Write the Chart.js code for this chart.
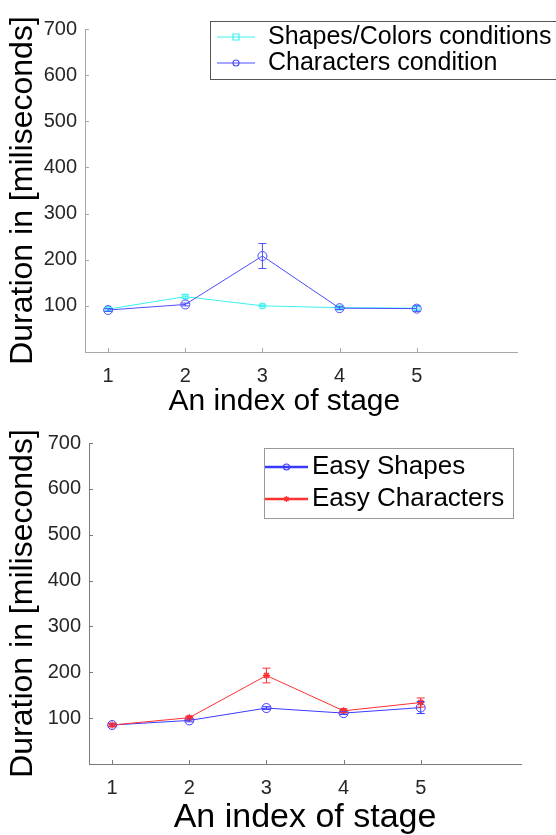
<!DOCTYPE html>
<html>
<head>
<meta charset="utf-8">
<script src="https://cdn.jsdelivr.net/npm/chart.js@4"></script>
<style>
  body { margin: 0; background: #fff; }
  canvas { display: block; }
</style>
</head>
<body>
<canvas id="top" width="556" height="417"></canvas>
<canvas id="bottom" width="556" height="418"></canvas>
<script>
// stage index on x, duration (ms) on y
const stages = [1, 2, 3, 4, 5];
const yTicks = [100, 200, 300, 400, 500, 600, 700];

// upper figure
const shapesColors = [93, 120, 100, 96, 95];
const shapesColorsErr = [3, 4, 2, 2, 4];
const characters = [91, 103, 208, 95, 94];
const charactersErr = [3, 3, 27, 3, 6];

// lower figure
const easyShapes = [85, 95, 122, 111, 123];
const easyShapesErr = [3, 3, 3, 3, 13];
const easyCharacters = [85, 101, 193, 116, 134];
const easyCharactersErr = [3, 3, 16, 4, 10];

const family = "'Liberation Sans', Arial, sans-serif";
const toPoints = arr => stages.map((s, i) => ({ x: s, y: arr[i] }));

function drawMarker(ctx, style, r, x, y) {
    ctx.beginPath();
    if (style === 'rect') {
        ctx.rect(x - r, y - r, 2 * r, 2 * r);
    } else if (style === 'star') {
        for (let k = 0; k < 4; k++) {
            const a = k * Math.PI / 4;
            ctx.moveTo(x - r * Math.cos(a), y - r * Math.sin(a));
            ctx.lineTo(x + r * Math.cos(a), y + r * Math.sin(a));
        }
    } else {
        ctx.arc(x, y, r, 0, Math.PI * 2);
    }
    ctx.stroke();
}

const errorBars = {
    id: 'errorBars',
    afterDatasetsDraw(chart) {
        const { ctx, scales: { x, y } } = chart;
        chart.data.datasets.forEach(ds => {
            if (!ds.err) return;
            ctx.save();
            ctx.strokeStyle = ds.borderColor;
            ctx.lineWidth = 1;
            ds.data.forEach((p, i) => {
                const px = x.getPixelForValue(p.x);
                const top = y.getPixelForValue(p.y + ds.err[i]);
                const bot = y.getPixelForValue(p.y - ds.err[i]);
                ctx.beginPath();
                ctx.moveTo(px, top); ctx.lineTo(px, bot);
                ctx.moveTo(px - 4, top); ctx.lineTo(px + 4, top);
                ctx.moveTo(px - 4, bot); ctx.lineTo(px + 4, bot);
                ctx.stroke();
            });
            ctx.restore();
        });
    }
};

// matlab style ticks pointing into the plot
const innerTicks = {
    id: 'innerTicks',
    afterDraw(chart, args, opts) {
        const { ctx, chartArea: a, scales: { x, y } } = chart;
        ctx.save();
        ctx.strokeStyle = opts.color;
        ctx.lineWidth = 1;
        ctx.beginPath();
        x.ticks.forEach(t => {
            const px = Math.round(x.getPixelForValue(t.value)) + 0.5;
            ctx.moveTo(px, a.bottom); ctx.lineTo(px, a.bottom - 4);
        });
        y.ticks.forEach(t => {
            const py = Math.round(y.getPixelForValue(t.value)) + 0.5;
            ctx.moveTo(a.left, py); ctx.lineTo(a.left + 4, py);
        });
        ctx.stroke();
        ctx.restore();
    }
};

const boxLegend = {
    id: 'boxLegend',
    afterDraw(chart, args, o) {
        const ctx = chart.ctx;
        ctx.save();
        ctx.fillStyle = '#fff';
        ctx.fillRect(o.left, o.top, o.width, o.height);
        ctx.strokeStyle = o.borderColor;
        ctx.lineWidth = 1;
        ctx.strokeRect(o.left + 0.5, o.top + 0.5, o.width, o.height);
        ctx.font = o.font;
        ctx.textBaseline = 'middle';
        ctx.fillStyle = '#000';
        chart.data.datasets.forEach((ds, i) => {
            const yy = o.rows[i];
            ctx.strokeStyle = ds.borderColor;
            ctx.lineWidth = o.lineWidth;
            ctx.beginPath();
            ctx.moveTo(o.lineFrom, yy); ctx.lineTo(o.lineTo, yy);
            ctx.stroke();
            ctx.lineWidth = 1.2;
            drawMarker(ctx, ds.pointStyle, o.markerSize, (o.lineFrom + o.lineTo) / 2, yy);
            ctx.fillText(ds.label, o.textX, yy);
        });
        ctx.restore();
    }
};

function makeChart(id, datasets, geo) {
    return new Chart(document.getElementById(id), {
        type: 'line',
        data: { datasets },
        plugins: [errorBars, innerTicks, boxLegend],
        options: {
            responsive: false,
            animation: false,
            events: [],
            layout: { padding: { left: 0, top: geo.top, right: geo.right, bottom: 0 } },
            plugins: {
                legend: { display: false },
                tooltip: { enabled: false },
                innerTicks: { color: geo.axisColor },
                boxLegend: geo.legend
            },
            scales: {
                x: {
                    type: 'linear',
                    min: 0.7,
                    max: 6.3,
                    afterBuildTicks: s => { s.ticks = stages.map(v => ({ value: v })); },
                    afterFit: s => { s.height = geo.xHeight; },
                    grid: { display: false, drawTicks: false },
                    border: { display: true, color: geo.axisColor, width: 1 },
                    ticks: { font: { size: 20, family }, color: '#262626', padding: 12, maxRotation: 0 },
                    title: {
                        display: true,
                        text: geo.xTitle,
                        font: { size: geo.xTitleSize, family, lineHeight: 1 },
                        color: '#000',
                        padding: { top: 0, bottom: 0 }
                    }
                },
                y: {
                    min: 0,
                    max: 700,
                    afterBuildTicks: s => { s.ticks = yTicks.map(v => ({ value: v })); },
                    afterFit: s => { s.width = geo.yWidth; },
                    grid: { display: false, drawTicks: false },
                    border: { display: true, color: geo.axisColor, width: 1 },
                    ticks: { font: { size: 20, family }, color: '#262626', padding: 8 },
                    title: {
                        display: true,
                        text: 'Duration in [miliseconds]',
                        font: { size: 32, family, lineHeight: 1 },
                        color: '#000',
                        padding: { top: 7, bottom: 0 }
                    }
                }
            }
        }
    });
}

makeChart('top', [
    {
        label: 'Shapes/Colors conditions',
        data: toPoints(shapesColors),
        err: shapesColorsErr,
        borderColor: '#3cf0f0',
        borderWidth: 1,
        pointStyle: 'rect',
        pointRadius: 3.5,
        pointBorderWidth: 1,
        pointBackgroundColor: 'rgba(0,0,0,0)',
        tension: 0,
        order: 1
    },
    {
        label: 'Characters condition',
        data: toPoints(characters),
        err: charactersErr,
        borderColor: '#4d4dff',
        borderWidth: 1,
        pointStyle: 'circle',
        pointRadius: 4.5,
        pointBorderWidth: 1,
        pointBackgroundColor: 'rgba(0,0,0,0)',
        tension: 0,
        order: 0
    }
], {
    top: 29, right: 39, xHeight: 65, yWidth: 85, xTitleSize: 30, axisColor: '#a8a8a8',
    // trailing spaces nudge the centred title left like in the original figure
    xTitle: 'An index of stage    ',
    legend: {
        left: 210, top: 21, width: 360, height: 58, borderColor: '#555',
        rows: [37, 63], lineFrom: 217, lineTo: 255, lineWidth: 1, markerSize: 3,
        textX: 268, font: "25px 'Liberation Sans', Arial, sans-serif"
    }
});

makeChart('bottom', [
    {
        label: 'Easy Shapes',
        data: toPoints(easyShapes),
        err: easyShapesErr,
        borderColor: '#3a3aff',
        borderWidth: 1,
        pointStyle: 'circle',
        pointRadius: 4.5,
        pointBorderWidth: 1,
        pointBackgroundColor: 'rgba(0,0,0,0)',
        tension: 0,
        order: 1
    },
    {
        label: 'Easy Characters',
        data: toPoints(easyCharacters),
        err: easyCharactersErr,
        borderColor: '#ff3030',
        borderWidth: 1,
        pointStyle: 'star',
        pointRadius: 3.5,
        pointBorderWidth: 1.5,
        pointBackgroundColor: 'rgba(0,0,0,0)',
        tension: 0,
        order: 0
    }
], {
    top: 26, right: 35, xHeight: 71, yWidth: 89, xTitleSize: 34, axisColor: '#7a7a7a',
    xTitle: 'An index of stage',
    legend: {
        left: 264, top: 31, width: 249, height: 70, borderColor: '#999',
        rows: [50, 82], lineFrom: 265, lineTo: 308, lineWidth: 2.5, markerSize: 3,
        textX: 312, font: "26px 'Liberation Sans', Arial, sans-serif"
    }
});
</script>
</body>
</html>
